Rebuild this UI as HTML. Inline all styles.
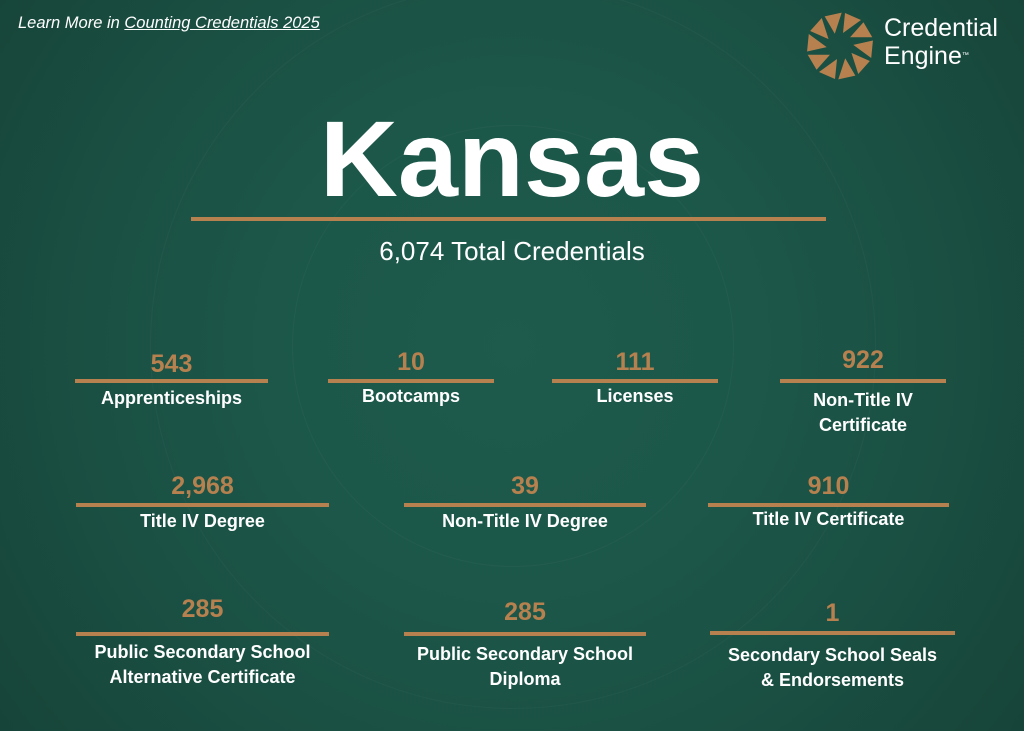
<!DOCTYPE html>
<html><head><meta charset="utf-8"><style>
html,body{margin:0;padding:0}
body{width:1024px;height:731px;overflow:hidden;position:relative;font-family:"Liberation Sans",sans-serif;
background:radial-gradient(circle at 512px 345px,#1e5b4d 0,#1c5749 250px,#1a5043 420px,#174539 620px,#143d33 800px);}
.ring{position:absolute;border-radius:50%;border:1px solid rgba(255,255,255,0.03);}
.abs{position:absolute}
.num{position:absolute;color:#b6814f;font-weight:bold;font-size:25px;text-align:center;line-height:1}
.line{position:absolute;height:4px;background:#b6814f}
.lab{position:absolute;color:#fff;font-weight:bold;font-size:18px;text-align:center;line-height:25px;white-space:nowrap}
</style></head><body>
<div class="ring" style="left:292px;top:125px;width:440px;height:440px"></div>
<div class="ring" style="left:150px;top:-17px;width:724px;height:724px"></div>

<div class="abs" style="left:18px;top:14px;color:#fff;font-style:italic;font-size:16.5px;white-space:nowrap">Learn More in <span style="text-decoration:underline">Counting Credentials 2025</span></div>

<svg class="abs" style="left:806px;top:12px" width="68" height="68" viewBox="-34 -34 68 68" id="logo"></svg>
<div class="abs" style="left:884px;top:14px;color:#fff;font-size:25px;line-height:28px;font-weight:300">Credential<br>Engine<span style="font-size:7px;vertical-align:top">™</span></div>

<div class="abs" style="left:0;width:1024px;top:100px;text-align:center;color:#fff;font-weight:bold;font-size:108px;line-height:118px">Kansas</div>
<div class="line" style="left:191px;width:635px;top:217px"></div>
<div class="abs" style="left:0;width:1024px;top:236px;text-align:center;color:#fff;font-size:26px;line-height:30px">6,074 Total Credentials</div>

<div id="items"></div>
<script>
const values=["543","10","111","922","2,968","39","910","285","285","1"];
const labels=["Apprenticeships","Bootcamps","Licenses","Non-Title IV<br>Certificate","Title IV Degree","Non-Title IV Degree","Title IV Certificate","Public Secondary School<br>Alternative Certificate","Public Secondary School<br>Diploma","Secondary School Seals<br>&amp; Endorsements"];
const names=["apprenticeships","bootcamps","licenses","non-title-iv-certificate","title-iv-degree","non-title-iv-degree","title-iv-certificate","alt-certificate","diploma","seals-endorsements"];
const layout=[[75,268,379,352,386],[328,494,379,350,384],[552,718,379,350,384],[780,946,379,348,388],
[76,329,503,474,509],[404,646,503,474,509],[708,949,503,474,507],[76,329,632,597,640],[404,646,632,600,642],[710,955,631,601,643]];
const c=document.getElementById('items');
values.forEach((v,i)=>{
 const [x1,x2,ly,ny,lb]=layout[i];const w=x2-x1;
 const n=document.createElement('div');n.className='num';n.style.left=x1+'px';n.style.width=w+'px';n.style.top=ny+'px';n.textContent=v;
 
 
 const l=document.createElement('div');l.className='line';l.style.left=x1+'px';l.style.width=w+'px';l.style.top=ly+'px';
 
 
 const t=document.createElement('div');t.className='lab';t.style.left=(x1-40)+'px';t.style.width=(w+80)+'px';t.style.top=lb+'px';t.innerHTML=labels[i];
 
 
 c.append(n,l,t);
});
const svg=document.getElementById('logo');
for(let k=0;k<10;k++){
 const p=document.createElementNS('http://www.w3.org/2000/svg','path');
 p.setAttribute('d','M3,-13 L5,-33 L21,-26 Z');
 p.setAttribute('fill','#b6814f');
 p.setAttribute('transform','rotate('+(k*36)+')');
 
 
 svg.appendChild(p);
}
</script>
</body></html>
